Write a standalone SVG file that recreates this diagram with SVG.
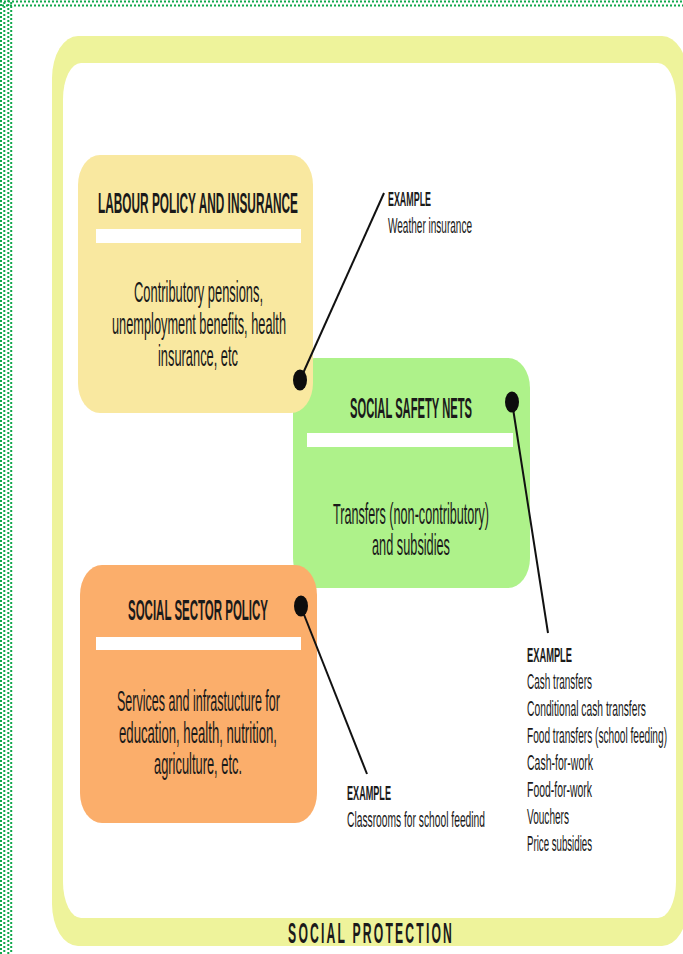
<svg xmlns="http://www.w3.org/2000/svg" width="683" height="954" viewBox="0 0 683 954">
<style>
  text { font-family: "Liberation Sans", Arial, sans-serif; fill: #1a1a1a; }
  .title { font-size: 29px; font-weight: bold; text-anchor: middle; }
  .body { font-size: 30px; text-anchor: middle; }
  .exh { font-size: 21px; font-weight: bold; }
  .ex { font-size: 22px; }
  .bar { fill: #ffffff; }
  .dotb { stroke: #10a84c; stroke-width: 2; fill: none; stroke-dasharray: 2 2; }
  .conn { stroke: #111111; stroke-width: 2; fill: none; }
  .pin { fill: #0d0d0d; }
</style>
<rect width="683" height="954" fill="#ffffff"/>
<g id="dotted-border">
  <line class="dotb" x1="0" y1="1.5" x2="683" y2="1.5"/>
  <line class="dotb" x1="2" y1="5.5" x2="683" y2="5.5"/>
  <line class="dotb" x1="1" y1="0" x2="1" y2="954"/>
  <line class="dotb" x1="4.3" y1="2" x2="4.3" y2="954"/>
  <line class="dotb" x1="8.3" y1="0" x2="8.3" y2="954"/>
  <line class="dotb" x1="11.2" y1="2" x2="11.2" y2="954"/>
</g>
<g id="social-protection-frame">
  <rect x="52" y="36" width="636" height="910" rx="26" ry="42" fill="#eef39b"/>
  <rect x="63" y="63" width="613" height="855" rx="18" ry="36" fill="#ffffff"/>
  <g transform="scale(0.42 1)">
    <text x="881" y="943" font-size="29" font-weight="bold" text-anchor="middle" textLength="390" lengthAdjust="spacing">SOCIAL PROTECTION</text>
  </g>
</g>
<g id="social-safety-nets">
  <rect x="293" y="358" width="237" height="230" rx="22" ry="30" fill="#aef28a"/>
  <rect class="bar" x="307" y="433" width="206" height="14"/>
  <text class="title" x="411" y="418" textLength="122" lengthAdjust="spacingAndGlyphs">SOCIAL SAFETY NETS</text>
  <text class="body" x="411" y="524" textLength="156" lengthAdjust="spacingAndGlyphs">Transfers (non-contributory)</text>
  <text class="body" x="411" y="555" textLength="78" lengthAdjust="spacingAndGlyphs">and subsidies</text>
</g>
<g id="labour-policy">
  <rect x="78" y="155" width="235" height="258" rx="22" ry="30" fill="#f9e8a0"/>
  <rect class="bar" x="96" y="229" width="205" height="14"/>
  <text class="title" x="198" y="213" textLength="200" lengthAdjust="spacingAndGlyphs">LABOUR POLICY AND INSURANCE</text>
  <text class="body" x="198.5" y="302" textLength="129" lengthAdjust="spacingAndGlyphs">Contributory pensions,</text>
  <text class="body" x="199" y="334" textLength="174" lengthAdjust="spacingAndGlyphs">unemployment benefits, health</text>
  <text class="body" x="198" y="366" textLength="80" lengthAdjust="spacingAndGlyphs">insurance, etc</text>
</g>
<g id="social-sector-policy">
  <rect x="80" y="565" width="237" height="258" rx="22" ry="30" fill="#fbae6b"/>
  <rect class="bar" x="96" y="637" width="205" height="13"/>
  <text class="title" x="198" y="620" textLength="140" lengthAdjust="spacingAndGlyphs">SOCIAL SECTOR POLICY</text>
  <text class="body" x="198.5" y="711" textLength="163" lengthAdjust="spacingAndGlyphs">Services and infrastucture for</text>
  <text class="body" x="198" y="743" textLength="158" lengthAdjust="spacingAndGlyphs">education, health, nutrition,</text>
  <text class="body" x="198" y="774" textLength="88" lengthAdjust="spacingAndGlyphs">agriculture, etc.</text>
</g>
<g id="connectors">
  <line class="conn" x1="300" y1="380" x2="384" y2="193"/>
  <line class="conn" x1="512" y1="402" x2="548" y2="633"/>
  <line class="conn" x1="301" y1="607" x2="367" y2="774"/>
  <ellipse class="pin" cx="300" cy="380" rx="7" ry="10.5"/>
  <ellipse class="pin" cx="512" cy="402" rx="7" ry="10.5"/>
  <ellipse class="pin" cx="301" cy="606" rx="7" ry="10.5"/>
</g>
<g id="example-labour">
  <text class="exh" x="388" y="206" textLength="43" lengthAdjust="spacingAndGlyphs">EXAMPLE</text>
  <text class="ex" x="388" y="233" textLength="84" lengthAdjust="spacingAndGlyphs">Weather insurance</text>
</g>
<g id="example-sector">
  <text class="exh" x="347" y="800" textLength="44" lengthAdjust="spacingAndGlyphs">EXAMPLE</text>
  <text class="ex" x="347" y="827" textLength="138" lengthAdjust="spacingAndGlyphs">Classrooms for school feedind</text>
</g>
<g id="example-safety-nets">
  <text class="exh" x="527" y="662" textLength="45" lengthAdjust="spacingAndGlyphs">EXAMPLE</text>
  <text class="ex" x="527" y="689" textLength="65" lengthAdjust="spacingAndGlyphs">Cash transfers</text>
  <text class="ex" x="527" y="716" textLength="119" lengthAdjust="spacingAndGlyphs">Conditional cash transfers</text>
  <text class="ex" x="527" y="743" textLength="140" lengthAdjust="spacingAndGlyphs">Food transfers (school feeding)</text>
  <text class="ex" x="527" y="770" textLength="66" lengthAdjust="spacingAndGlyphs">Cash-for-work</text>
  <text class="ex" x="527" y="797" textLength="65" lengthAdjust="spacingAndGlyphs">Food-for-work</text>
  <text class="ex" x="527" y="824" textLength="42" lengthAdjust="spacingAndGlyphs">Vouchers</text>
  <text class="ex" x="527" y="851" textLength="65" lengthAdjust="spacingAndGlyphs">Price subsidies</text>
</g>
</svg>
